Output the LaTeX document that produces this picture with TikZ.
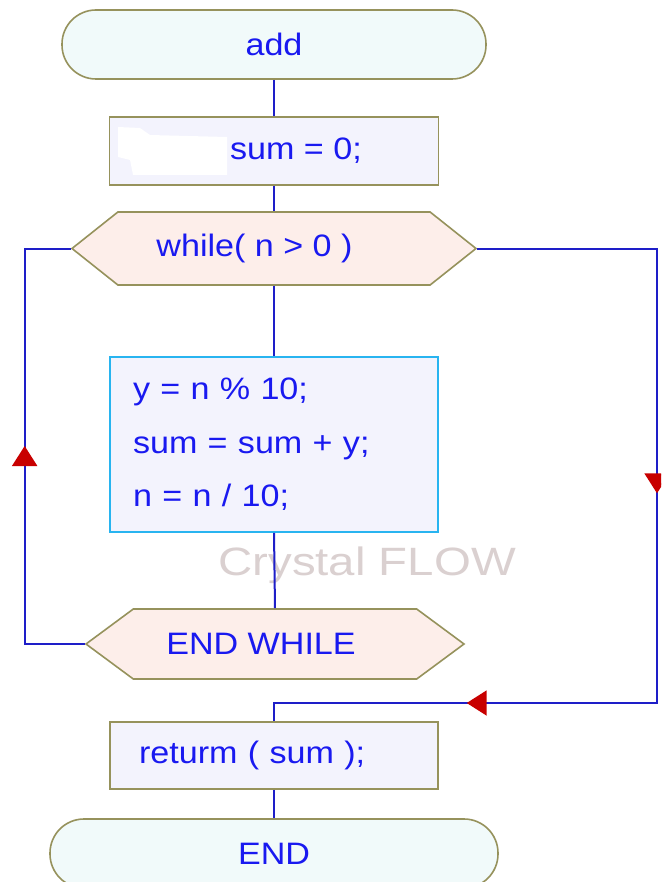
\documentclass[tikz,border=0pt]{standalone}
\usepackage{fontspec}
\usepackage{tikz}
\usetikzlibrary{shapes.symbols,decorations.markings,arrows.meta}

\newfontfamily\flowfont[FakeStretch=1.1]{Liberation Sans}
\newfontfamily\markfont[FakeStretch=1.2]{Liberation Sans}

\definecolor{edgeolive}{RGB}{150,146,92}
\definecolor{termfill}{RGB}{241,250,250}
\definecolor{procfill}{RGB}{243,243,253}
\definecolor{loopfill}{RGB}{253,238,234}
\definecolor{bodyedge}{RGB}{40,180,240}
\definecolor{textblue}{RGB}{25,25,240}
\definecolor{flowblue}{RGB}{30,30,200}
\definecolor{tipred}{RGB}{200,0,0}
\definecolor{markgrey}{RGB}{218,208,208}

\tikzset{
  txt/.style={text=textblue, font=\flowfont\fontsize{15.5}{26.75}\selectfont, inner sep=0pt},
  term/.style={txt, draw=edgeolive, fill=termfill, line width=0.8pt, rounded corners=17pt, minimum height=34.5pt},
  proc/.style={txt, draw=edgeolive, fill=procfill, line width=0.8pt, align=left},
  loophead/.style={signal, signal to=east and west, draw=edgeolive, fill=loopfill, line width=0.8pt, inner sep=0pt},
  flow/.style={draw=flowblue, line width=1pt},
}
\newcommand{\redtip}{\arrow[tipred]{Triangle[length=10pt,width=12.5pt]}}

\begin{document}
\begin{tikzpicture}[x=0.5pt,y=-0.5pt]
\useasboundingbox (0,0) rectangle (661,882);
\fill [white] (0,0) rectangle (661,882);
\clip (0,0) rectangle (661,882);

% watermark under everything
\node [font=\markfont\fontsize{19.75}{20}\selectfont, text=markgrey, anchor=base west, inner sep=0pt] (mark) at (218,575) {Crystal FLOW};

% blocks
\node [term, minimum width=212pt] (add) at (274,44.5) {add};

\node [proc, minimum width=164.5pt, minimum height=34pt] (init) at (274,151) {};
\fill [white] (118,127) -- (140,128) -- (150,135) -- (227,137) -- (227,175) -- (133,175) -- (130,160) -- (118,157) -- cycle;
\node [txt, anchor=west] (inittxt) at ([xshift=60.5pt]init.west) {sum = 0;};

\node [loophead, minimum width=202pt, minimum height=36.5pt, signal pointer angle=77] (whilecond) at (274,248.5) {};
\node [txt] (whiletxt) at ([xshift=-9.75pt]whilecond.center) {while( n > 0 )};

\node [proc, draw=bodyedge, text width=141pt, inner xsep=11.5pt, minimum height=87.5pt] (body) at (274,444.5)
  {y = n \% 10;\\ sum = sum + y;\\ n = n / 10;};

\node [loophead, minimum width=189pt, minimum height=35pt, signal pointer angle=73] (endwhile) at (275,644) {};
\node [txt] (endtxt) at ([xshift=-7pt]endwhile.center) {END WHILE};

\node [proc, text width=135pt, inner xsep=14.5pt, minimum height=33.5pt] (ret) at (274,755.5) {returm ( sum );};

\node [term, minimum width=224pt] (end) at (274,853.5) {END};

% connectors
\coordinate (join) at (274,703);
\draw [flow] (add.south) -- (init.north);
\draw [flow] (init.south) -- (whilecond.north);
\draw [flow] (whilecond.south) -- (body.north);
\draw [flow] (body.south) -- (endwhile.north);
\draw [flow] (ret.south) -- (end.north);
% back to the loop head
\draw [flow, decoration={markings, mark=at position 129pt with {\redtip}}, postaction={decorate}]
  (endwhile.west) -- ++(-60,0) |- (whilecond.west);
% leaving the loop
\draw [flow, decoration={markings, mark=at position 212.25pt with {\redtip}, mark=at position 412.25pt with {\redtip}}, postaction={decorate}]
  (whilecond.east) -| (657,703) -- (join) -- (ret.north);
\end{tikzpicture}
\end{document}
